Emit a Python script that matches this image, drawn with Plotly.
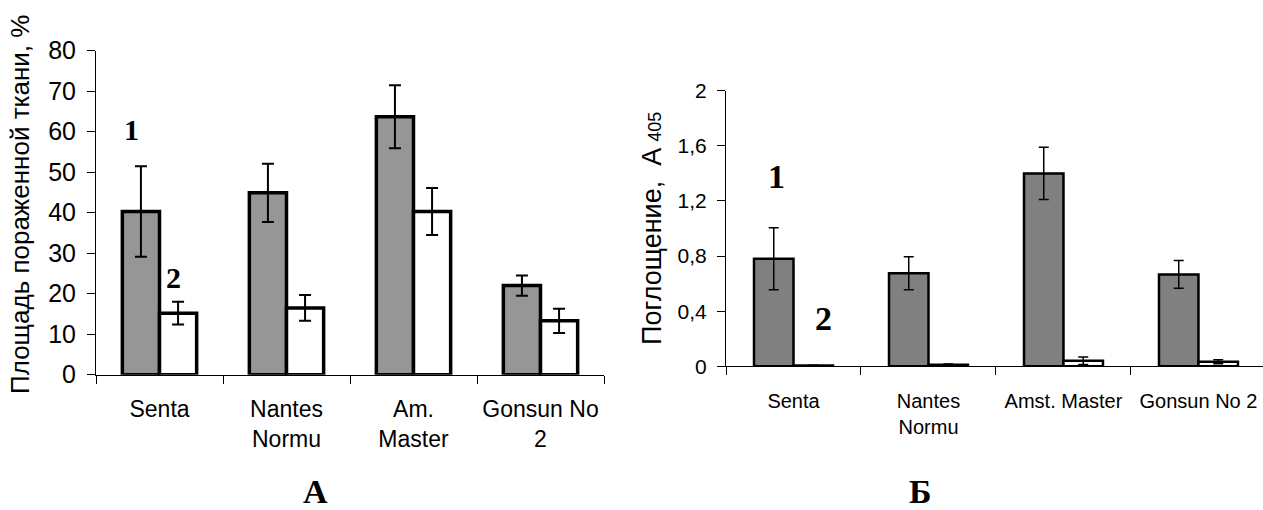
import plotly.graph_objects as go

W, H = 1263, 510

# ---- data ----
cultivars_a = ["Senta", "Nantes<br>Normu", "Am.<br>Master", "Gonsun No<br>2"]
cultivars_b = ["Senta", "Nantes<br>Normu", "Amst. Master", "Gonsun No 2"]

lesion_1 = [40.3, 44.9, 63.7, 22.0]
lesion_1_err = [11.2, 7.2, 7.8, 2.5]
lesion_2 = [15.2, 16.5, 40.3, 13.3]
lesion_2_err = [2.8, 3.2, 5.8, 3.0]

absorb_1 = [0.78, 0.675, 1.40, 0.667]
absorb_1_err = [0.225, 0.12, 0.19, 0.10]
absorb_2 = [0.005, 0.012, 0.04, 0.033]
absorb_2_err = [0.003, 0.005, 0.027, 0.015]

ticks_a = [0, 10, 20, 30, 40, 50, 60, 70, 80]
ticks_b = [0, 0.4, 0.8, 1.2, 1.6, 2.0]
ticks_b_text = ["0", "0,4", "0,8", "1,2", "1,6", "2"]

SANS = "Liberation Sans, Arial, sans-serif"
SERIF = "Liberation Serif, Times New Roman, serif"


def px_x(x):
    return x / W


def px_y(y):
    return 1 - y / H


fig = go.Figure()

# panel A
fig.add_trace(go.Bar(
    x=cultivars_a, y=lesion_1, xaxis="x", yaxis="y",
    marker=dict(color="#969696", line=dict(color="black", width=3.5)),
    error_y=dict(type="data", array=lesion_1_err, color="black", thickness=2, width=6),
))
fig.add_trace(go.Bar(
    x=cultivars_a, y=lesion_2, xaxis="x", yaxis="y",
    marker=dict(color="white", line=dict(color="black", width=3.5)),
    error_y=dict(type="data", array=lesion_2_err, color="black", thickness=2, width=6),
))

# panel Б
fig.add_trace(go.Bar(
    x=cultivars_b, y=absorb_1, xaxis="x2", yaxis="y2",
    marker=dict(color="#808080", line=dict(color="black", width=2.5)),
    error_y=dict(type="data", array=absorb_1_err, color="black", thickness=1.5, width=5),
))
fig.add_trace(go.Bar(
    x=cultivars_b, y=absorb_2, xaxis="x2", yaxis="y2",
    marker=dict(color="white", line=dict(color="black", width=2.5)),
    error_y=dict(type="data", array=absorb_2_err, color="black", thickness=1.5, width=5),
))

axis_common = dict(showgrid=False, zeroline=False, showline=True, linecolor="black",
                   linewidth=1, ticks="outside", ticklen=8, tickcolor="black", tickwidth=1,
                   automargin=False)

fig.update_layout(
    template="none",
    width=W, height=H,
    margin=dict(l=0, r=0, t=0, b=0, pad=0, autoexpand=False),
    paper_bgcolor="white", plot_bgcolor="white",
    showlegend=False,
    barmode="group",
    bargap=0.415,
    bargroupgap=0,
    xaxis=dict(domain=[px_x(96), px_x(604)], anchor="y", tickson="boundaries",
               tickfont=dict(family=SANS, size=23, color="black"),
               ticklabelstandoff=14, **axis_common),
    yaxis=dict(domain=[px_y(374.7), px_y(50.7)], anchor="x", range=[0, 80],
               tickvals=ticks_a, tickfont=dict(family=SANS, size=25, color="black"),
               ticklabelstandoff=6, **axis_common),
    xaxis2=dict(domain=[px_x(726), 1.0], anchor="y2", tickson="boundaries",
                range=[-0.5, 3.478],
                tickfont=dict(family=SANS, size=20, color="black"),
                ticklabelstandoff=17, **axis_common),
    yaxis2=dict(domain=[px_y(366.3), px_y(90.7)], anchor="x2", range=[0, 2],
                tickvals=ticks_b, ticktext=ticks_b_text,
                tickfont=dict(family=SANS, size=21, color="black"),
                ticklabelstandoff=6, **axis_common),
)

annotations = [
    dict(x=px_x(20), y=px_y(205), text="Площадь пораженной ткани, %", textangle=-90,
         font=dict(family=SANS, size=26, color="black")),
    dict(x=px_x(652), y=px_y(229),
         text="Поглощение,  A <span style='font-size:18px'>405</span>", textangle=-90,
         font=dict(family=SANS, size=27, color="black")),
    dict(x=px_x(131), y=px_y(129), text="<b>1</b>", font=dict(family=SERIF, size=30, color="black")),
    dict(x=px_x(174), y=px_y(277), text="<b>2</b>", font=dict(family=SERIF, size=30, color="black")),
    dict(x=px_x(776), y=px_y(176), text="<b>1</b>", font=dict(family=SERIF, size=34, color="black")),
    dict(x=px_x(823), y=px_y(318), text="<b>2</b>", font=dict(family=SERIF, size=34, color="black")),
    dict(x=px_x(315.5), y=px_y(491), text="<b>А</b>", font=dict(family=SERIF, size=34, color="black")),
    dict(x=px_x(920), y=px_y(491), text="<b>Б</b>", font=dict(family=SERIF, size=34, color="black")),
]
for a in annotations:
    a.update(xref="paper", yref="paper", showarrow=False, xanchor="center", yanchor="middle")
fig.update_layout(annotations=annotations)

fig.write_html("out.html")
